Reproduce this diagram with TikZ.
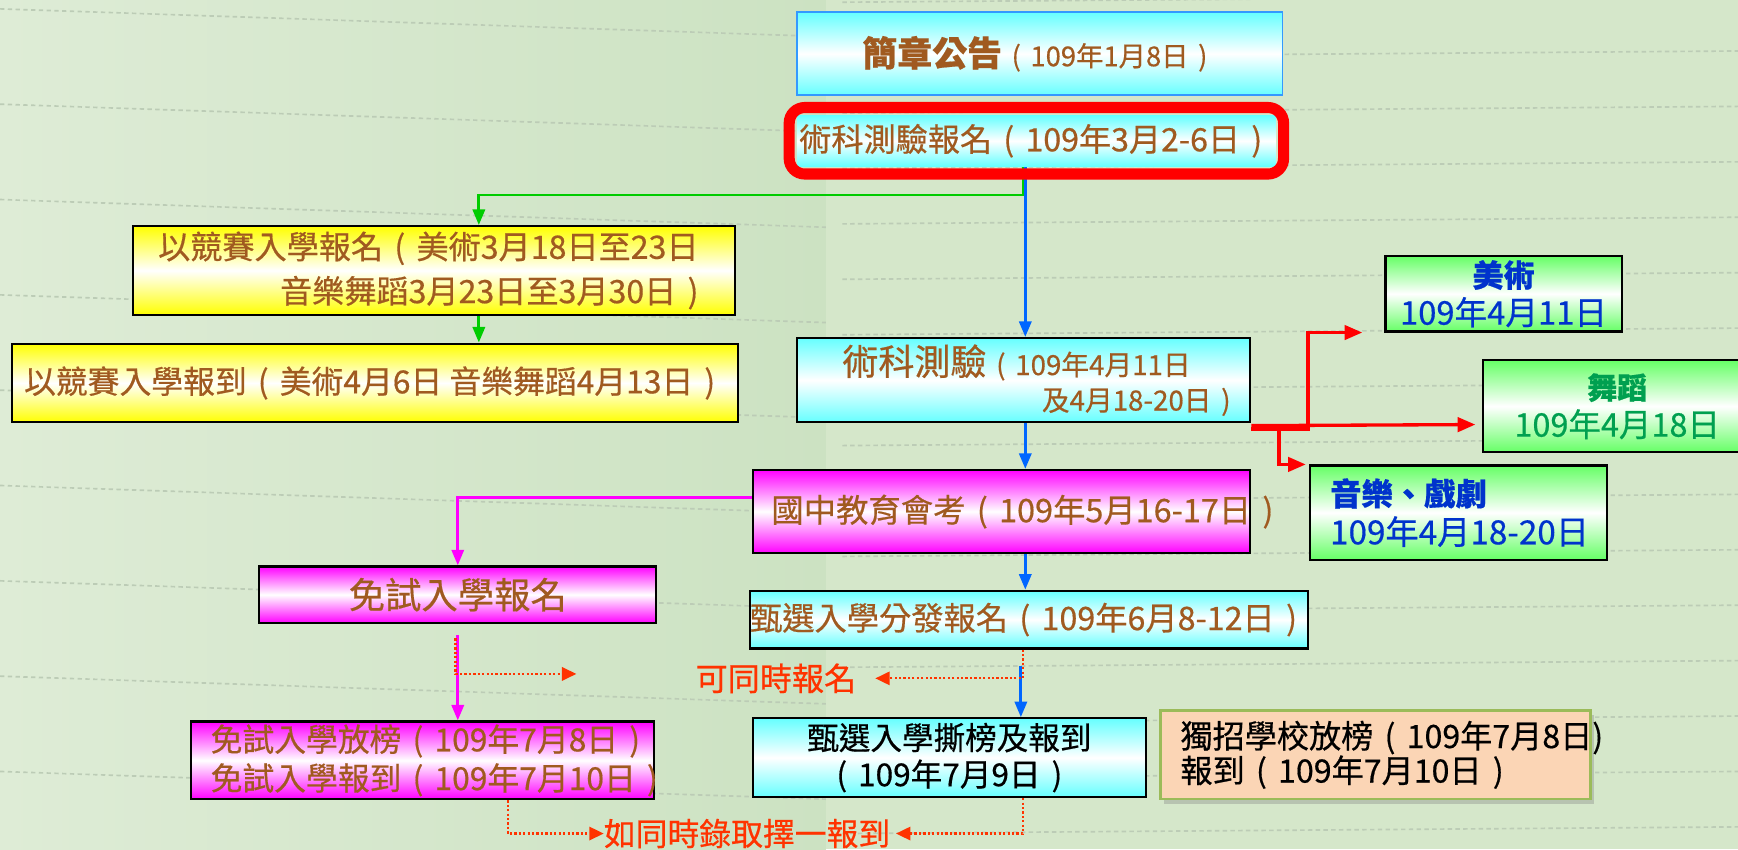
\documentclass[tikz,border=0pt]{standalone}
\usepackage{fontspec}
\setmainfont{Noto Sans CJK TC}[FakeBold=0.5]
\usepackage{tikz}
\usetikzlibrary{arrows.meta,shadows}

\definecolor{brn}{RGB}{160,90,32}
\definecolor{cyanf}{RGB}{102,255,255}
\definecolor{magf}{RGB}{255,0,255}
\definecolor{yelf}{RGB}{255,255,0}
\definecolor{grnf}{RGB}{102,255,102}
\definecolor{linblue}{RGB}{0,102,255}
\definecolor{lingreen}{RGB}{0,204,0}
\definecolor{redtx}{RGB}{255,51,0}
\definecolor{txtblue}{RGB}{0,51,204}
\definecolor{txtgreen}{RGB}{0,160,80}
\definecolor{peach}{RGB}{251,213,181}
\definecolor{olive}{RGB}{155,187,89}
\definecolor{boxblue}{RGB}{51,153,255}
\definecolor{bgleft}{RGB}{222,236,214}
\definecolor{bgmid}{RGB}{204,226,194}
\definecolor{bgright}{RGB}{213,231,202}
\definecolor{decor}{RGB}{188,204,182}

\newcommand{\fsz}[1]{\fontsize{#1}{#1}\selectfont}
\newcommand{\lp}{\kern.35em(\kern.35em}
\newcommand{\rp}{\kern.35em)\kern.35em}
\exhyphenpenalty=10000

\tikzset{
  box/.style={draw=black, line width=2pt, inner sep=0pt, text=brn},
  cyanbox/.style={box, top color=cyanf, bottom color=cyanf, middle color=white},
  magbox/.style={box, top color=magf, bottom color=magf, middle color=white},
  yelbox/.style={box, top color=yelf, bottom color=yelf, middle color=white},
  grnbox/.style={box, top color=grnf, bottom color=grnf, middle color=white},
  redtxt/.style={inner sep=0pt, text=redtx},
  barr/.style={linblue, line width=2.5pt, -{Triangle[length=14pt,width=11pt]}},
  garr/.style={lingreen, line width=2.5pt, -{Triangle[length=14pt,width=11pt]}},
  marr/.style={magf, line width=2.5pt, -{Triangle[length=14pt,width=11pt]}},
  rarr/.style={red, line width=3pt, -{Triangle[length=16pt,width=13pt]}},
  darr/.style={redtx, line width=2pt, dash pattern=on 2pt off 2pt, -{Triangle[length=13pt,width=12pt]}},
  bgline/.style={decor, line width=1.5pt, dash pattern=on 4pt off 3pt}
}

\begin{document}
\begin{tikzpicture}[x=1pt,y=-1pt]
\useasboundingbox (0,0) rectangle (1568,766);
\clip (0,0) rectangle (1568,766);

% ozadje
\shade[left color=bgleft, right color=bgmid] (0,0) rectangle (745,766);
\fill[bgright] (745,0) rectangle (1568,766);
\foreach \y in {8,94,...,766}
\draw[bgline] (0,\y) -- (745,\y+25);
\foreach \y in {2,52,...,766}
\draw[bgline] (760,\y) -- (1568,\y-6);

% sredina
\node[cyanbox, draw=boxblue, line width=1.5pt, minimum width=438pt, minimum height=75pt] (jz) at (938,48.5)
  {{\bfseries\fsz{31.5}簡章公告}{\fsz{24.7}\lp 109年1月8日\rp}};
\node[cyanbox, draw=none, minimum width=432pt, minimum height=46pt, font={\fsz{29}}] (skbm) at (935,127)
  {術科測驗報名\lp 109年3月2-6日\rp};
\node[cyanbox, minimum width=409pt, minimum height=76pt, inner xsep=10pt, text width=389pt, align=left,
  font={\fontsize{25}{32}\selectfont}] (skcy) at (923.5,343)
  {\hspace*{31pt}\mbox{{\fsz{32.5}術科測驗}\lp 109年4月11日}\\\hspace*{211pt}\mbox{及4月18-20日\rp}};
\node[magbox, minimum width=449pt, minimum height=75pt,
  label={[font={\fsz{29.2}}, text=brn, inner sep=0pt, xshift=24pt]center:國中教育會考\lp 109年5月16-17日\rp}] (gzhk) at (903.5,461.5) {};
\node[cyanbox, minimum width=503pt, minimum height=52pt, font={\fsz{29.1}}] (zxfb) at (928.5,559)
  {甄選入學分發報名\lp 109年6月8-12日\rp};
\node[cyanbox, minimum width=355pt, minimum height=71pt, align=center, text=black,
  font={\fontsize{28.5}{33}\selectfont}] (zxsb) at (856.5,683.5)
  {甄選入學撕榜及報到\\\lp 109年7月9日\rp};

% levo
\node[yelbox, minimum width=543pt, minimum height=80pt, align=left, font={\fontsize{29}{40}\selectfont}] (jsbm) at (391.5,244)
  {以競賽入學報名\lp 美術3月18日至23日\\\hspace*{110pt}音樂舞蹈3月23日至3月30日\rp};
\node[yelbox, minimum width=655pt, minimum height=71pt, font={\fsz{28.7}}] (jsbd) at (338.5,345.5)
  {以競賽入學報到\lp 美術4月6日 音樂舞蹈4月13日\rp};
\node[magbox, minimum width=358pt, minimum height=51pt, font={\fsz{32.8}}] (msbm) at (413,536.5) {免試入學報名};
\node[magbox, minimum width=418pt, minimum height=70pt, inner xsep=18pt, text width=382pt, align=left,
  font={\fontsize{28.7}{35}\selectfont}] (msfb) at (381,686)
  {\mbox{免試入學放榜\lp 109年7月8日\rp}\\\mbox{免試入學報到\lp 109年7月10日\rp}};

% desno
\node[grnbox, minimum width=213pt, minimum height=68pt, align=center, text=txtblue,
  font={\fontsize{29.5}{34}\selectfont}] (ms) at (1356.5,265) {{\bfseries\fsz{28}美術}\\109年4月11日};
\node[grnbox, minimum width=242pt, minimum height=83pt, align=center, text=txtgreen,
  font={\fontsize{29.3}{34}\selectfont}] (wd) at (1459,366.5) {{\bfseries\fsz{27}舞蹈}\\109年4月18日};
\node[grnbox, minimum width=268pt, minimum height=85pt, inner xsep=14pt, text width=240pt, align=left, text=txtblue,
  font={\fontsize{30}{35}\selectfont}] (yy) at (1316,462.5) {\hspace*{4pt}{\bfseries\fsz{28.3}音樂、戲劇}\\\hspace*{4pt}\mbox{109年4月18-20日}};
\node[draw=olive, line width=2pt, fill=peach, drop shadow={shadow xshift=3pt, shadow yshift=-4pt, opacity=0.35},
  minimum width=388pt, minimum height=80pt, inner xsep=18pt, inner ysep=0pt, text width=352pt, align=left,
  font={\fontsize{29}{29}\selectfont}] (dz) at (1241,681)
  {\mbox{獨招學校放榜\lp 109年7月8日)}\\\mbox{報到\lp 109年7月10日\rp}};

\node[redtxt, font={\fsz{29}}] (tbm) at (700,612) {可同時報名};
\node[redtxt, font={\fsz{28.7}}] (rl) at (674,752) {如同時錄取擇一報到};
\coordinate (tbmL) at (520,608);

% povezave
\draw[garr] ([xshift=-12pt]skbm.south) -- ++(0,25) -| ([xshift=40.5pt]jsbm.north);
\draw[garr] ([xshift=40.5pt]jsbm.south) -- ([xshift=93.5pt]jsbd.north);
\draw[barr] ([xshift=-10pt]skbm.south) -- ([xshift=1.5pt]skcy.north);
\draw[barr] ([xshift=1.5pt]skcy.south) -- ([xshift=21.5pt]gzhk.north);
\draw[barr] ([xshift=21.5pt]gzhk.south) -- ([xshift=-3.5pt]zxfb.north);
\draw[barr] ([xshift=-7.5pt,yshift=-15pt]zxfb.south) -- ([xshift=64.5pt]zxsb.north);
\draw[marr] ([yshift=12.5pt]gzhk.west) -| (msbm.north);
\draw[marr] ([yshift=-10pt]msbm.south) -- ([xshift=32pt]msfb.north);
\draw[darr] ([xshift=-2pt,yshift=-13pt]msbm.south) |- (tbmL);
\draw[darr] ([xshift=-5.5pt]zxfb.south) |- ([xshift=17pt]tbm.east);
\draw[darr] ([xshift=66.5pt]zxsb.south) |- ([xshift=5pt]rl.east);
\draw[darr] ([xshift=77pt]msfb.south) |- (rl.west);
\draw[rarr, shorten >=6pt] ([yshift=-2pt]skcy.south east) -- ([yshift=-16.5pt]wd.west);
\draw[rarr] ([yshift=-5pt]skcy.south east) -- ++(51,0) |- ([xshift=-20pt]ms.south west);
\draw[rarr, shorten >=3pt] ([yshift=-5pt]skcy.south east) -- ++(25,0) |- (yy.north west);

\draw[red, line width=10pt, rounded corners=14pt] ([shift={(-6,-6)}]skbm.north west) rectangle ([shift={(6,6)}]skbm.south east);
\end{tikzpicture}
\end{document}
